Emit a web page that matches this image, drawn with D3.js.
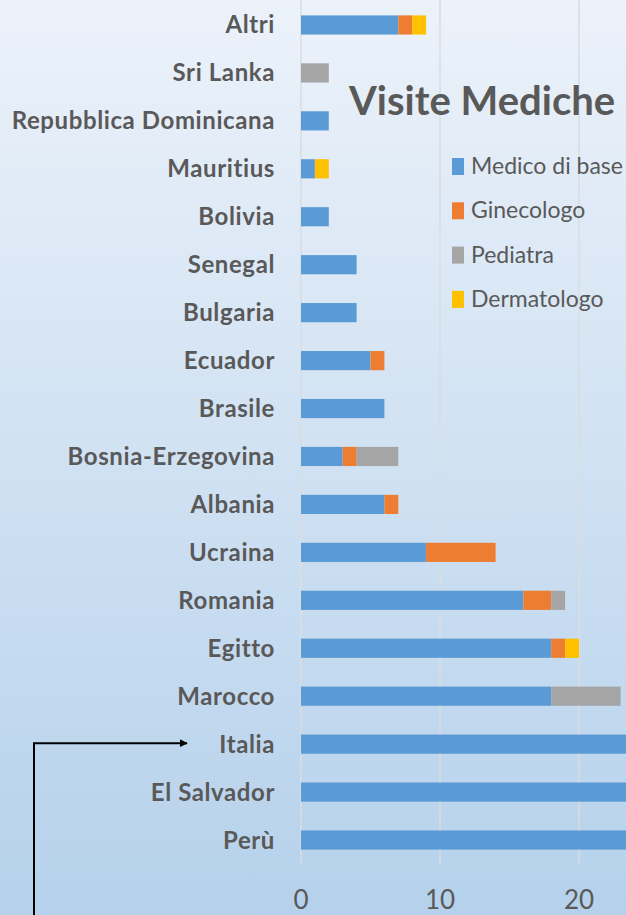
<!DOCTYPE html>
<meta charset="utf-8">
<style>
body { margin: 0; overflow: hidden; }
text { font-family: Lato, "Open Sans", sans-serif; fill: #595959; }
</style>
<body>
<script src="https://d3js.org/d3.v7.min.js"></script>
<script>

let categories = ["Altri", "Sri Lanka", "Repubblica Dominicana", "Mauritius", "Bolivia", "Senegal",
	"Bulgaria", "Ecuador", "Brasile", "Bosnia-Erzegovina", "Albania", "Ucraina", "Romania",
	"Egitto", "Marocco", "Italia", "El Salvador", "Perù"];
// last three bars run off the picture, values are a guess
let medico = [7, 0, 2, 1, 2, 4, 4, 5, 6, 3, 6, 9, 16, 18, 18, 27, 30, 36];
let ginecologo = [1, 0, 0, 0, 0, 0, 0, 1, 0, 1, 1, 5, 2, 1, 0, 0, 0, 0];
let pediatra = [0, 2, 0, 0, 0, 0, 0, 0, 0, 3, 0, 0, 1, 0, 5, 0, 0, 0];
let dermatologo = [1, 0, 0, 1, 0, 0, 0, 0, 0, 0, 0, 0, 0, 1, 0, 0, 0, 0];
let seriesNames = ["Medico di base", "Ginecologo", "Pediatra", "Dermatologo"];
let xTicks = [0, 10, 20]; // 30 and up fall outside the picture

let width = 626;
let height = 915;

let rows = categories.map((c, i) => ({
	cat: c,
	"Medico di base": medico[i],
	"Ginecologo": ginecologo[i],
	"Pediatra": pediatra[i],
	"Dermatologo": dermatologo[i]
}));

let color = d3.scaleOrdinal()
	.domain(seriesNames)
	.range(["#5B9BD5", "#ED7D31", "#A5A5A5", "#FFC000"]);

let x = d3.scaleLinear()
	.domain([0, 40])
	.range([301, 857]);

let y = d3.scaleBand()
	.domain(categories)
	.range([1, 864])
	.paddingInner(0.6)
	.paddingOuter(0.3);

let svg = d3.select('body').append('svg')
	.attr('width', width)
	.attr('height', height);

let grad = svg.append('defs').append('linearGradient')
	.attr('id', 'bg')
	.attr('x1', 0).attr('y1', 0).attr('x2', 0).attr('y2', 1);
grad.append('stop').attr('offset', '0%').attr('stop-color', '#ECF2FA');
grad.append('stop').attr('offset', '100%').attr('stop-color', '#B5D1EB');

svg.append('rect')
	.attr('width', width)
	.attr('height', height)
	.attr('fill', 'url(#bg)');

// vertical gridlines
svg.append('g')
	.selectAll('line')
	.data(xTicks)
	.join('line')
	.attr('x1', d => x(d)).attr('x2', d => x(d))
	.attr('y1', 0).attr('y2', 864)
	.attr('stroke', '#D9DDE2')
	.attr('stroke-width', 1.5);

// tick labels
svg.append('g')
	.selectAll('text')
	.data(xTicks)
	.join('text')
	.attr('x', d => x(d))
	.attr('y', 909)
	.attr('text-anchor', 'middle')
	.style('font-size', '26px')
	.text(d => d);

let stack = d3.stack().keys(seriesNames);
let stacked = stack(rows);

svg.append('g')
	.selectAll('g')
	.data(stacked)
	.join('g')
	.attr('fill', d => color(d.key))
	.selectAll('rect')
	.data(d => d)
	.join('rect')
	.attr('x', d => x(d[0]))
	.attr('y', d => y(d.data.cat))
	.attr('width', d => x(d[1]) - x(d[0]))
	.attr('height', y.bandwidth());

// category labels
svg.append('g')
	.selectAll('text')
	.data(categories)
	.join('text')
	.attr('x', 275)
	.attr('y', d => y(d) + y.bandwidth() / 2 + 8.5)
	.attr('text-anchor', 'end')
	.style('font-size', '24px')
	.style('font-weight', 'bold')
	.style('letter-spacing', '0.6px')
	.text(d => d);

svg.append('text')
	.attr('x', 349)
	.attr('y', 115)
	.style('font-size', '40px')
	.style('font-weight', 'bold')
	.text('Visite Mediche');

let legend = svg.append('g')
	.selectAll('g')
	.data(seriesNames)
	.join('g')
	.attr('transform', (d, i) => 'translate(452,' + (166 + i * 44.3) + ')');
legend.append('rect')
	.attr('x', 0).attr('y', -8)
	.attr('width', 12).attr('height', 17)
	.attr('fill', d => color(d));
legend.append('text')
	.attr('x', 19)
	.attr('y', 8)
	.style('font-size', '23px')
	.text(d => d);

// arrow pointing at Italia
let ay = y('Italia') + y.bandwidth() / 2 - 1;
svg.append('defs').append('marker')
	.attr('id', 'arr')
	.attr('viewBox', '0 0 10 10')
	.attr('refX', 9).attr('refY', 5)
	.attr('markerWidth', 4).attr('markerHeight', 4)
	.attr('orient', 'auto')
	.append('path')
	.attr('d', 'M0,0L10,5L0,10z')
	.attr('fill', '#000');
svg.append('path')
	.attr('d', 'M34,' + height + 'V' + ay + 'H187')
	.attr('fill', 'none')
	.attr('stroke', '#000')
	.attr('stroke-width', 2)
	.attr('marker-end', 'url(#arr)');

</script>
</body>
